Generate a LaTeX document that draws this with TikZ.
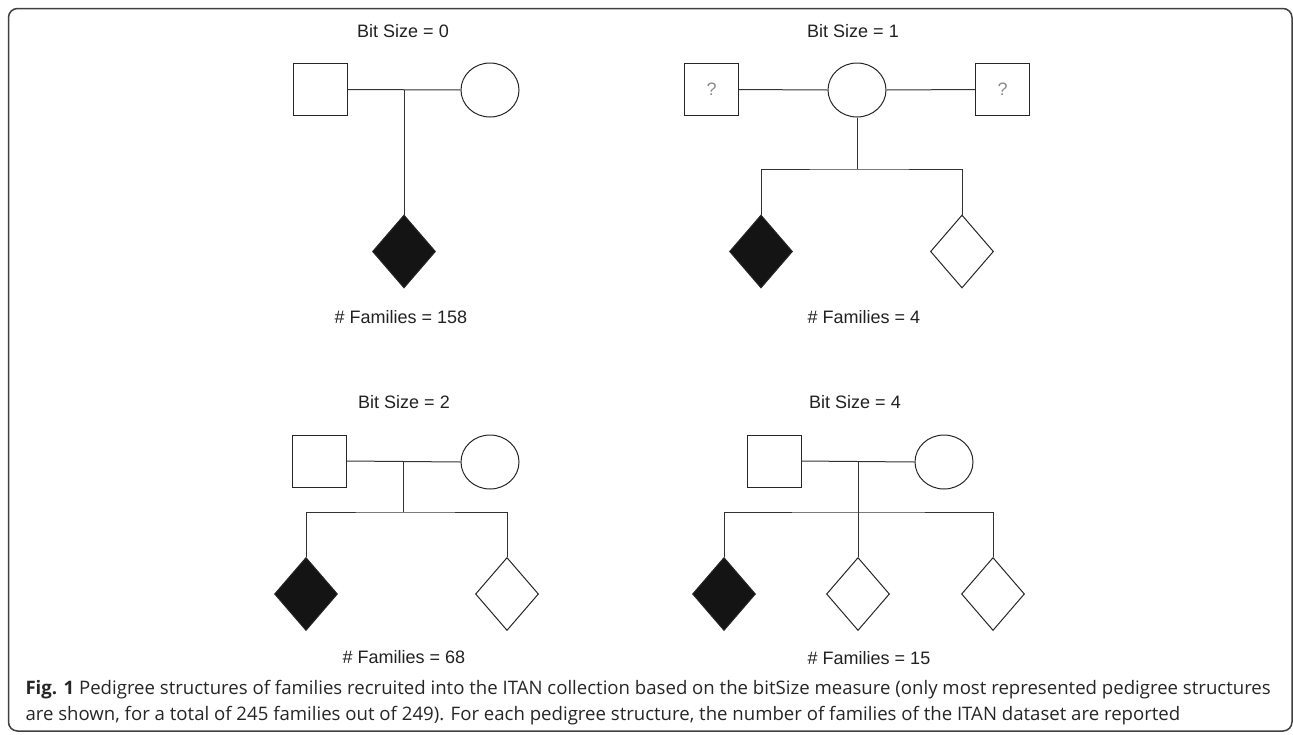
\documentclass[tikz,border=0pt]{standalone}
\usepackage{fontspec}
\setmainfont{Liberation Sans}
\newfontfamily\capfont{Open Sans}
\usetikzlibrary{shapes.geometric,calc}

\begin{document}
\begin{tikzpicture}[x=1pt,y=-1pt,line width=1pt,
  male/.style={draw=black!85,rectangle,minimum width=54pt,minimum height=52pt,inner sep=0pt},
  female/.style={draw=black!85,ellipse,minimum width=58pt,minimum height=54pt,inner sep=0pt},
  kid/.style={draw=black!85,diamond,minimum width=63pt,minimum height=73pt,inner sep=0pt},
  affected/.style={kid,fill=black!92},
  lbl/.style={font=\fontsize{18}{20}\selectfont,text=black!87},
  unknown/.style={male,font=\fontsize{18}{20}\selectfont,text=black!45},
  link/.style={draw=black!80},
  captxt/.style={anchor=base west,inner sep=0pt,font=\capfont\fontsize{18.6}{22}\selectfont,text=black!85}]
\useasboundingbox (0,0) rectangle (1293,734);
\draw[black!75,line width=1.5pt,rounded corners=9pt] (8.5,8.5) rectangle (1292,731);

% bit size 0
\node[lbl] (t0) at (403,31) {Bit Size = 0};
\node[male] (m0) at (320,89.5) {};
\node[female] (f0) at (490,90) {};
\node[affected] (c0) at (404,251.5) {};
\coordinate (u0) at ($(m0.east)!.5!(f0.west)$);
\draw[link] (m0.east) -- (f0.west);
\draw[link] (u0) -- (c0.north);
\node[lbl] (n0) at (401,317) {\# Families = 158};

% bit size 1
\node[lbl] (t1) at (853,31) {Bit Size = 1};
\node[unknown] (m1a) at (711.5,89.5) {?};
\node[female] (f1) at (857,90) {};
\node[unknown] (m1b) at (1002.5,89.5) {?};
\draw[link] (m1a.east) -- (f1.west);
\draw[link] (f1.east) -- (m1b.west);
\node[affected] (c1a) at (761,251.5) {};
\node[kid] (c1b) at (962,251.5) {};
\coordinate (s1) at (857,169);
\draw[link] (f1.south) -- (s1);
\draw[link] (c1a.north) |- (s1) -| (c1b.north);
\node[lbl] (n1) at (864,317) {\# Families = 4};

% bit size 2
\node[lbl] (t2) at (404,402) {Bit Size = 2};
\node[male] (m2) at (319.5,461) {};
\node[female] (f2) at (490,462) {};
\node[affected] (c2a) at (306,594) {};
\node[kid] (c2b) at (507,594) {};
\coordinate (u2) at ($(m2.east)!.5!(f2.west)$);
\coordinate (s2) at (u2 |- 0,512);
\draw[link] (m2.east) -- (f2.west);
\draw[link] (u2) -- (s2);
\draw[link] (c2a.north) |- (s2) -| (c2b.north);
\node[lbl] (n2) at (404,657) {\# Families = 68};

% bit size 4
\node[lbl] (t4) at (855,402) {Bit Size = 4};
\node[male] (m4) at (774,461) {};
\node[female] (f4) at (944,462) {};
\node[affected] (c4a) at (724,594) {};
\node[kid] (c4b) at (858,594) {};
\node[kid] (c4c) at (993,594) {};
\coordinate (u4) at ($(m4.east)!.5!(f4.west)$);
\coordinate (s4) at (c4b.north |- 0,512);
\draw[link] (m4.east) -- (f4.west);
\draw[link] (u4) -- (c4b.north);
\draw[link] (c4a.north) |- (s4) -| (c4c.north);
\node[lbl] (n4) at (869,658) {\# Families = 15};

% caption
\node[captxt] (cap1) at (25,694)
  {\textbf{Fig. 1} Pedigree structures of families recruited into the ITAN collection based on the bitSize measure (only most represented pedigree structures};
\node[captxt] (cap2) at (25,720)
  {are shown, for a total of 245 families out of 249). For each pedigree structure, the number of families of the ITAN dataset are reported};
\end{tikzpicture}
\end{document}
